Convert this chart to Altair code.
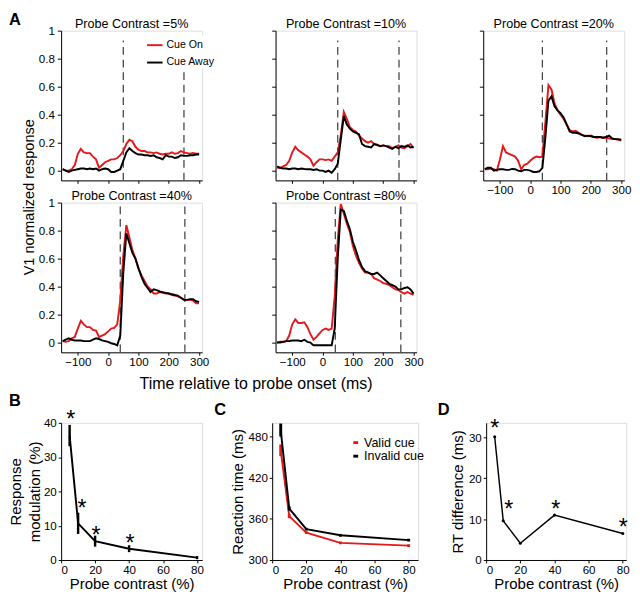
import altair as alt
import pandas as pd

FONT = "Liberation Sans"
RED = "#e3191c"

# ---------------- Panel A data (V1 normalized response) ----------------
times = list(range(-150, 301, 10))
contrasts_A = [5, 10, 20, 40, 80]

cue_on_5 = [0.01, 0.0, 0.0, 0.01, 0.04, 0.12, 0.155, 0.13, 0.125, 0.125,
            0.10, 0.08, 0.02, 0.04, 0.06, 0.07, 0.08, 0.08, 0.09, 0.11,
            0.14, 0.19, 0.22, 0.21, 0.17, 0.15, 0.14, 0.14, 0.13, 0.13,
            0.125, 0.13, 0.12, 0.115, 0.12, 0.12, 0.13, 0.12, 0.125, 0.14,
            0.13, 0.125, 0.12, 0.125, 0.12, 0.12]
cue_away_5 = [0.01, 0.0, -0.01, 0.0, 0.005, 0.01, 0.015, 0.015, 0.01, 0.015,
              0.01, 0.015, 0.0, 0.01, 0.015, 0.01, -0.01, -0.01, 0.0, 0.01,
              0.07, 0.13, 0.16, 0.14, 0.125, 0.115, 0.115, 0.11, 0.11, 0.105,
              0.11, 0.095, 0.09, 0.08, 0.11, 0.10, 0.10, 0.09, 0.095, 0.11,
              0.105, 0.105, 0.11, 0.11, 0.115, 0.115]
cue_on_10 = [0.02, 0.02, 0.03, 0.04, 0.07, 0.13, 0.17, 0.145, 0.13, 0.115,
             0.10, 0.08, 0.035, 0.06, 0.08, 0.08, 0.075, 0.08, 0.07, 0.10,
             0.13, 0.25, 0.42, 0.37, 0.31, 0.29, 0.28, 0.25, 0.23, 0.21,
             0.20, 0.21, 0.19, 0.18, 0.175, 0.18, 0.175, 0.175, 0.16, 0.17,
             0.18, 0.165, 0.16, 0.175, 0.19, 0.16]
cue_away_10 = [0.03, 0.02, 0.015, 0.015, 0.01, 0.015, 0.015, 0.01, 0.015, 0.012,
               0.01, 0.01, 0.005, 0.01, 0.0, 0.0, -0.01, 0.0, -0.015, 0.01,
               0.05, 0.22, 0.39, 0.33, 0.30, 0.28, 0.27, 0.26, 0.19, 0.175,
               0.17, 0.165, 0.19, 0.185, 0.175, 0.18, 0.175, 0.165, 0.155, 0.17,
               0.16, 0.175, 0.17, 0.18, 0.165, 0.17]
cue_on_20 = [0.01, 0.01, 0.015, 0.01, 0.0, 0.08, 0.175, 0.13, 0.12, 0.11,
             0.10, 0.07, 0.01, 0.04, 0.05, 0.07, 0.09, 0.10, 0.095, 0.10,
             0.35, 0.61, 0.58, 0.48, 0.43, 0.40, 0.37, 0.33, 0.29, 0.28,
             0.285, 0.27, 0.255, 0.25, 0.245, 0.25, 0.24, 0.235, 0.24, 0.235,
             0.235, 0.23, 0.225, 0.225, 0.22, 0.215]
cue_away_20 = [0.01, 0.02, 0.02, 0.0, 0.005, 0.01, 0.01, 0.005, 0.005, 0.012,
               0.01, 0.0, -0.005, 0.005, 0.005, 0.0, -0.01, -0.01, -0.005, 0.02,
               0.24, 0.50, 0.53, 0.46, 0.43, 0.41, 0.38, 0.33, 0.28, 0.27,
               0.27, 0.265, 0.255, 0.245, 0.25, 0.245, 0.24, 0.24, 0.24, 0.235,
               0.24, 0.25, 0.23, 0.225, 0.225, 0.22]
cue_on_40 = [0.01, 0.005, 0.01, 0.03, 0.04, 0.10, 0.155, 0.13, 0.11, 0.11,
             0.09, 0.085, 0.04, 0.05, 0.06, 0.08, 0.10, 0.105, 0.13, 0.30,
             0.62, 0.84, 0.75, 0.66, 0.60, 0.53, 0.48, 0.44, 0.40, 0.38,
             0.35, 0.35, 0.36, 0.355, 0.35, 0.35, 0.34, 0.335, 0.33, 0.32,
             0.305, 0.305, 0.305, 0.30, 0.28, 0.28]
cue_away_40 = [0.01, 0.02, 0.03, 0.02, 0.015, 0.015, 0.015, 0.01, 0.01, 0.01,
               0.02, 0.03, 0.025, 0.015, 0.01, 0.005, -0.005, -0.01, -0.02, 0.05,
               0.50, 0.78, 0.71, 0.64, 0.60, 0.53, 0.47, 0.42, 0.39, 0.36,
               0.38, 0.375, 0.365, 0.36, 0.355, 0.35, 0.345, 0.34, 0.335, 0.32,
               0.305, 0.305, 0.31, 0.31, 0.295, 0.29]
cue_on_80 = [0.0, 0.005, 0.005, 0.01, 0.05, 0.13, 0.165, 0.14, 0.14, 0.145,
             0.11, 0.06, 0.02, 0.04, 0.065, 0.09, 0.10, 0.09, 0.10, 0.33,
             0.73, 0.99, 0.92, 0.85, 0.79, 0.69, 0.62, 0.57, 0.53, 0.50,
             0.50, 0.49, 0.46, 0.45, 0.44, 0.425, 0.42, 0.41, 0.395, 0.38,
             0.375, 0.36, 0.35, 0.36, 0.35, 0.34]
cue_away_80 = [0.0, 0.0, 0.005, 0.01, 0.01, 0.015, 0.015, 0.015, 0.01, 0.02,
               0.005, 0.0, -0.02, -0.02, -0.02, -0.02, -0.02, -0.02, -0.02, 0.10,
               0.60, 0.95, 0.94, 0.87, 0.81, 0.72, 0.66, 0.59, 0.54, 0.51,
               0.50, 0.49, 0.49, 0.50, 0.48, 0.46, 0.44, 0.42, 0.41, 0.40,
               0.38, 0.38, 0.39, 0.395, 0.38, 0.35]

cue_on = [cue_on_5, cue_on_10, cue_on_20, cue_on_40, cue_on_80]
cue_away = [cue_away_5, cue_away_10, cue_away_20, cue_away_40, cue_away_80]
onset_marker = [50, 50, 40, 40, 42]
offset_marker = [250, 252, 252, 253, 258]
cue_labels = ["Cue On", "Cue Away"]

# ---------------- Panels B-D data ----------------
contrast = [5, 10, 20, 40, 80]
mod_mean = [36.3, 10.7, 5.5, 3.3, 0.7]
mod_err = [3.1, 3.1, 1.6, 1.0, 0.45]
mod_star_x = [5.7, 12.3, 20.6, 40.5]
mod_star_y = [42.8, 16.8, 9.0, 6.5]

rt_valid = [460, 364, 340, 325, 321]
rt_valid_err = [8.5, 3, 2, 2, 2]
rt_invalid = [489.5, 375, 345, 336, 329]
rt_invalid_err = [9.5, 3, 2, 2, 2]
rt_labels = ["Valid cue", "Invalid cue"]

rt_diff = [30.2, 9.6, 4.1, 11.0, 6.5]
diff_star_x = [5.1, 13.2, 40.8, 80.3]
diff_star_y = [33.6, 13.8, 13.9, 9.4]


def label_text(text, x, y, size=17, weight="bold", align="left"):
    return alt.Chart(pd.DataFrame({"k": [0]})).mark_text(
        text=text, font=FONT, fontSize=size, fontWeight=weight, align=align,
        baseline="alphabetic", color="black"
    ).encode(x=alt.value(x), y=alt.value(y))


def panel_a(i, xlab, ylab, legend=False, with_letter=False, dash_top=0.93):
    c = contrasts_A[i]
    xs = alt.Scale(domain=[-155, 310], nice=False, zero=False)
    ys = alt.Scale(domain=[-0.07, 1.0], nice=False, zero=False)
    xax = alt.Axis(values=[-100, 0, 100, 200, 300], labels=xlab, title=None,
                   tickSize=3, labelPadding=2, labelFontSize=12)
    yax = alt.Axis(values=[0, 0.2, 0.4, 0.6, 0.8, 1], format="~g", labels=ylab,
                   title=None, tickSize=4, labelPadding=3, labelFontSize=12)
    cs = alt.Scale(domain=cue_labels, range=[RED, "black"])
    leg = None
    if legend:
        leg = alt.Legend(orient="none", legendX=87, legendY=5, title=None,
                         symbolType="stroke", symbolSize=256, symbolStrokeWidth=2,
                         labelFontSize=11, labelFont=FONT, labelColor="black",
                         labelOffset=3, rowPadding=4, padding=1, fillColor="white")
    df_on = pd.DataFrame({"t": times, "v": cue_on[i], "cue": cue_labels[0]})
    df_away = pd.DataFrame({"t": times, "v": cue_away[i], "cue": cue_labels[1]})
    dash_df = pd.DataFrame({"t": [onset_marker[i], offset_marker[i]],
                            "lo": [-0.07, -0.07], "hi": [dash_top, dash_top]})
    dashes = alt.Chart(dash_df).mark_rule(
        strokeDash=[8, 5], color="#444444", strokeWidth=1.3
    ).encode(x=alt.X("t:Q", scale=xs, axis=xax),
             y=alt.Y("lo:Q", scale=ys, axis=yax), y2="hi:Q")
    enc = dict(x=alt.X("t:Q", scale=xs, axis=xax),
               y=alt.Y("v:Q", scale=ys, axis=yax),
               color=alt.Color("cue:N", scale=cs, legend=leg))
    red = alt.Chart(df_on).mark_line(strokeWidth=2).encode(**enc)
    blk = alt.Chart(df_away).mark_line(strokeWidth=2).encode(**enc)
    title = label_text(f"Probe Contrast ={c}%", 73, -3, size=13, weight="normal",
                       align="center")
    layers = [dashes, red, blk, title]
    if with_letter:
        layers.append(label_text("A", -54, -6))
    return alt.layer(*layers).properties(width=146, height=155)


p1 = panel_a(0, False, True, legend=True, with_letter=True)
p2 = panel_a(1, False, False)
p3 = panel_a(2, True, False)
p4 = panel_a(3, True, True, dash_top=1.0)
p5 = panel_a(4, True, False, dash_top=1.0)

top_grid = alt.concat(
    p1, p2, p3, p4, p5, columns=3, align="each",
    spacing=alt.RowColnumber(row=-8, column=56),
    title=alt.TitleParams("V1 normalized response", orient="left", anchor="middle",
                          frame="bounds", offset=-29, dx=-8, fontSize=15, font=FONT,
                          fontWeight="normal", color="black")
).resolve_scale(color="independent").resolve_legend(color="independent")

# ---------------- Panel B ----------------
xc_axis = dict(values=[0, 20, 40, 60, 80], title="Probe contrast (%)", tickSize=3,
               labelPadding=2, labelFontSize=12, titleFontSize=15.5, titlePadding=1)

bx = alt.Scale(domain=[0, 83], nice=False, zero=False)
by = alt.Scale(domain=[0, 40], nice=False, zero=True)
dfB = pd.DataFrame({"c": contrast, "m": mod_mean,
                    "lo": [m - e for m, e in zip(mod_mean, mod_err)],
                    "hi": [m + e for m, e in zip(mod_mean, mod_err)]})
bxa = alt.Axis(**xc_axis)
bya = alt.Axis(values=[0, 10, 20, 30, 40], title=["Response", "modulation (%)"],
               titleLineHeight=20, tickSize=3, labelPadding=2, labelFontSize=12,
               titleFontSize=15.5, titlePadding=1)
B_line = alt.Chart(dfB).mark_line(color="black", strokeWidth=2).encode(
    x=alt.X("c:Q", scale=bx, axis=bxa), y=alt.Y("m:Q", scale=by, axis=bya))
B_err = alt.Chart(dfB).mark_rule(color="black", strokeWidth=2.5).encode(
    x=alt.X("c:Q", scale=bx, axis=bxa), y=alt.Y("lo:Q", scale=by, axis=bya), y2="hi:Q")
B_star = alt.Chart(pd.DataFrame({"x": mod_star_x, "y": mod_star_y})).mark_text(
    text="*", fontSize=24, font=FONT, dy=7, color="black").encode(
    x=alt.X("x:Q", scale=bx, axis=bxa), y=alt.Y("y:Q", scale=by, axis=bya))
panelB = alt.layer(B_line, B_err, B_star, label_text("B", -54, -17)).properties(
    width=146, height=142)

# ---------------- Panel C ----------------
cx = alt.Scale(domain=[0, 85.5], nice=False, zero=False)
cy = alt.Scale(domain=[300, 500], nice=False, zero=False)
cxa = alt.Axis(**xc_axis)
cya = alt.Axis(values=[300, 360, 420, 480], title="Reaction time (ms)", tickSize=3,
               labelPadding=2, labelFontSize=12, titleFontSize=15.5, titlePadding=3)
ccs = alt.Scale(domain=rt_labels, range=[RED, "black"])
dfC = pd.DataFrame({
    "c": contrast * 2,
    "rt": rt_valid + rt_invalid,
    "lo": [m - e for m, e in zip(rt_valid, rt_valid_err)] + [m - e for m, e in zip(rt_invalid, rt_invalid_err)],
    "hi": [m + e for m, e in zip(rt_valid, rt_valid_err)] + [m + e for m, e in zip(rt_invalid, rt_invalid_err)],
    "cond": [rt_labels[0]] * 5 + [rt_labels[1]] * 5,
})
c_leg = alt.Legend(orient="none", legendX=78, legendY=12, title=None, symbolType="stroke",
                   symbolSize=25, symbolStrokeWidth=3, labelFontSize=13, labelFont=FONT,
                   labelColor="black", labelOffset=2, rowPadding=0, padding=2)
C_lines = [
    alt.Chart(dfC[dfC["cond"] == lab]).mark_line(strokeWidth=2).encode(
        x=alt.X("c:Q", scale=cx, axis=cxa), y=alt.Y("rt:Q", scale=cy, axis=cya),
        color=alt.Color("cond:N", scale=ccs, legend=c_leg))
    for lab in rt_labels
]
C_err = [
    alt.Chart(dfC[dfC["cond"] == lab]).mark_rule(strokeWidth=3).encode(
        x=alt.X("c:Q", scale=cx, axis=cxa), y=alt.Y("lo:Q", scale=cy, axis=cya), y2="hi:Q",
        color=alt.Color("cond:N", scale=ccs, legend=c_leg))
    for lab in rt_labels
]
panelC = alt.layer(C_lines[0], C_err[0], C_lines[1], C_err[1],
                   label_text("C", -60, -8)).properties(width=151, height=142)

# ---------------- Panel D ----------------
dx_ = alt.Scale(domain=[0, 82], nice=False, zero=False)
dy_ = alt.Scale(domain=[0, 33.6], nice=False, zero=True)
dxa = alt.Axis(**xc_axis)
dya = alt.Axis(values=[0, 10, 20, 30], title="RT difference (ms)", tickSize=3,
               labelPadding=2, labelFontSize=12, titleFontSize=15.5, titlePadding=3)
dfD = pd.DataFrame({"c": contrast, "d": rt_diff})
D_line = alt.Chart(dfD).mark_line(color="black", strokeWidth=1.5).encode(
    x=alt.X("c:Q", scale=dx_, axis=dxa), y=alt.Y("d:Q", scale=dy_, axis=dya))
D_pts = alt.Chart(dfD).mark_point(filled=True, size=10, color="black", opacity=1).encode(
    x=alt.X("c:Q", scale=dx_, axis=dxa), y=alt.Y("d:Q", scale=dy_, axis=dya))
D_star = alt.Chart(pd.DataFrame({"x": diff_star_x, "y": diff_star_y})).mark_text(
    text="*", fontSize=24, font=FONT, dy=7, color="black").encode(
    x=alt.X("x:Q", scale=dx_, axis=dxa), y=alt.Y("y:Q", scale=dy_, axis=dya))
panelD = alt.layer(D_line, D_pts, D_star, label_text("D", -50, -8)).properties(
    width=145, height=142)

row3 = alt.hconcat(
    panelB, panelC, panelD, spacing=9.5,
    title=alt.TitleParams("Time relative to probe onset (ms)", orient="top", anchor="start",
                          frame="bounds", offset=0, dx=136, fontSize=16.5, font=FONT,
                          fontWeight="normal", color="black")
).resolve_scale(color="independent").resolve_legend(color="independent")

chart = alt.vconcat(top_grid, row3, spacing=8).resolve_scale(
    color="independent").resolve_legend(color="independent").properties(
    padding={"left": 0, "top": -8, "right": 0, "bottom": 0}
).configure_view(stroke=None).configure(font=FONT).configure_axis(
    grid=False, domainColor="black", tickColor="black", labelColor="black",
    titleColor="black", titleFontWeight="normal", labelFont=FONT, titleFont=FONT,
    domainWidth=1, tickWidth=1
)

chart.save("out.html", embed_options={"renderer": "svg", "actions": False})
